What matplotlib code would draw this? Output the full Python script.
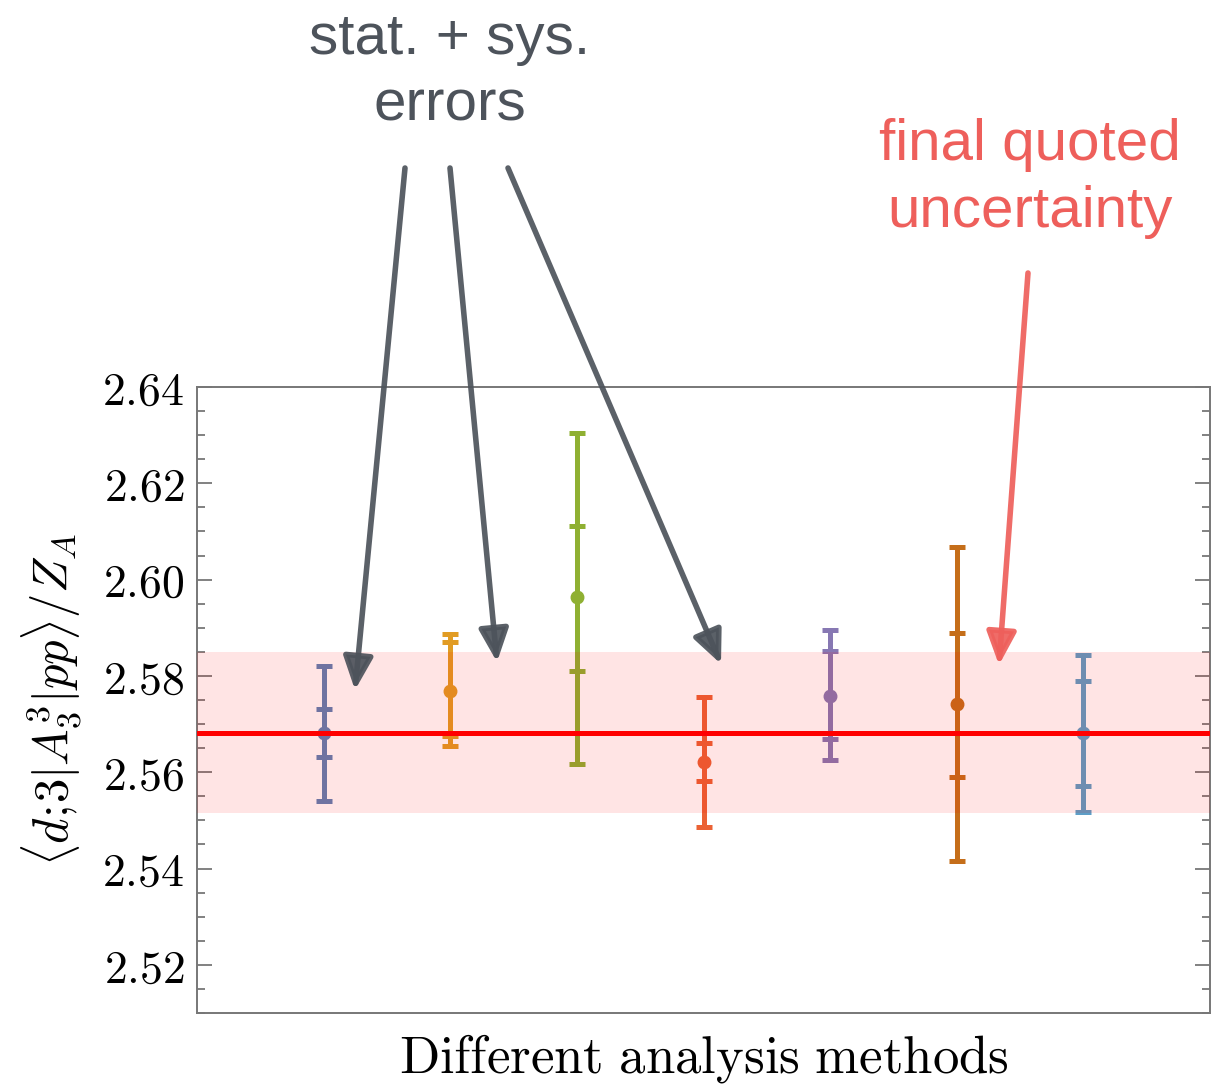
import matplotlib
matplotlib.use("Agg")
import matplotlib.pyplot as plt
from matplotlib.patches import FancyArrowPatch
from matplotlib.ticker import MultipleLocator, FuncFormatter, NullLocator

plt.rcParams["mathtext.fontset"] = "cm"

# values (one per analysis method)
methods = [1, 2, 3, 4, 5, 6, 7]
central = [2.5681, 2.5769, 2.5963, 2.5621, 2.5759, 2.5742, 2.5681]
stat_hi = [2.5731, 2.5871, 2.6112, 2.5661, 2.5851, 2.5890, 2.5790]
stat_lo = [2.5632, 2.5675, 2.5811, 2.5581, 2.5670, 2.5591, 2.5571]
tot_hi = [2.5821, 2.5887, 2.6304, 2.5757, 2.5896, 2.6068, 2.5843]
tot_lo = [2.5541, 2.5655, 2.5617, 2.5486, 2.5626, 2.5415, 2.5518]
final_value = 2.5681
final_band = (2.5515, 2.5849)

# Mathematica default palette
COLORS = ["#5E81B5", "#E19C24", "#8FB032", "#EB6235", "#8778B3", "#C56E1A", "#5D9EC7"]
GRAY = "#4d535b"
SALMON = "#ee5f5b"

fig = plt.figure(figsize=(12.24, 10.90), dpi=100)
ax = fig.add_axes([0.161, 0.0706, 0.8276, 0.5744])

for x, c, sh, sl, th, tl, col in zip(methods, central, stat_hi, stat_lo, tot_hi, tot_lo, COLORS):
    ax.errorbar([x], [c], yerr=[[c - tl], [th - c]], fmt="o", color=col, ms=9,
                elinewidth=3.6, capsize=5.5, capthick=3.6, zorder=2)
    ax.errorbar([x], [c], yerr=[[c - sl], [sh - c]], fmt="none", ecolor=col,
                elinewidth=3.6, capsize=5.5, capthick=3.6, zorder=2)

ax.axhspan(final_band[0], final_band[1], color="red", alpha=0.105, lw=0, zorder=3)
ax.axhline(final_value, color="red", lw=3.6, zorder=4)

ax.set_xlim(0, 8)
ax.set_ylim(2.51, 2.64)
ax.xaxis.set_major_locator(NullLocator())
ax.yaxis.set_major_locator(MultipleLocator(0.02))
ax.yaxis.set_minor_locator(MultipleLocator(0.005))
ax.yaxis.set_major_formatter(FuncFormatter(lambda v, _: f"${v:.2f}$"))
ax.tick_params(axis="y", which="both", direction="in", left=True, right=True,
               color="#777777", width=1.3, labelsize=33, pad=9)
ax.tick_params(axis="y", which="major", length=11)
ax.tick_params(axis="y", which="minor", length=6)
for s in ax.spines.values():
    s.set_color("#777777")
    s.set_linewidth(1.4)

ax.set_ylabel(r"$\langle d;\!3|A_3^3|pp\rangle/Z_A$", fontsize=35, labelpad=14)
ax.set_xlabel(r"$\mathrm{Different\ analysis\ methods}$", fontsize=38, labelpad=14)

# annotations (figure pixel positions -> figure fraction)
W, H = 1224, 1090


def fpos(px, py):
    return (px / W, 1 - py / H)


fig.text(*fpos(450, 12), "stat. + sys.\nerrors", ha="center", va="top",
         fontsize=42, color=GRAY, family="Liberation Sans", linespacing=1.3)
fig.text(*fpos(1030, 118), "final quoted\nuncertainty", ha="center", va="top",
         fontsize=42, color=SALMON, family="Liberation Sans", linespacing=1.3)

for tail, tip, col in [((405, 168), (355, 690), GRAY),
                       ((450, 168), (497, 662), GRAY),
                       ((508, 168), (721, 664), GRAY),
                       ((1028, 273), (999, 665), SALMON)]:
    arr = FancyArrowPatch(fpos(*tail), fpos(*tip), transform=fig.transFigure,
                          arrowstyle="-|>,head_length=2.0,head_width=0.9",
                          mutation_scale=10, lw=4, color=col, alpha=0.92,
                          shrinkA=0, shrinkB=0)
    fig.add_artist(arr)

fig.savefig("out.png", dpi=100, facecolor="white")
